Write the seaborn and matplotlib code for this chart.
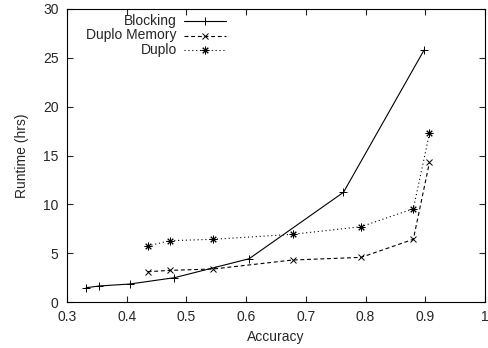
import matplotlib
matplotlib.use("Agg")
import matplotlib.pyplot as plt
from matplotlib.lines import Line2D
import seaborn as sns

# data
blocking_acc = [0.332, 0.354, 0.405, 0.480, 0.605, 0.763, 0.898]
blocking_hrs = [1.46, 1.64, 1.84, 2.49, 4.43, 11.23, 25.8]

duplo_acc = [0.435, 0.4725, 0.545, 0.678, 0.7925, 0.880, 0.907]
duplo_mem_hrs = [3.10, 3.24, 3.38, 4.30, 4.57, 6.42, 14.3]
duplo_hrs = [5.73, 6.28, 6.42, 6.93, 7.71, 9.55, 17.27]

series_names = ['Blocking', 'Duplo Memory', 'Duplo']

sns.set_style("ticks")
plt.rcParams['font.family'] = ['Liberation Sans', 'DejaVu Sans']
plt.rcParams['font.size'] = 10

W, H = 489, 348
fig = plt.figure(figsize=(W / 100, H / 100), dpi=100)
ax = fig.add_axes([67 / W, 1 - 302 / H, (485 - 67) / W, (302 - 9) / H])

styles = [
    dict(linestyle='-', marker='+', markersize=6),
    dict(linestyle=(0, (3.5, 2.5)), marker='x', markersize=5),
    dict(linestyle=(0, (1, 2.5)), marker=(8, 2, 0), markersize=5.5),
]
common = dict(color='black', linewidth=0.8, markeredgewidth=0.7,
              markeredgecolor='black', markerfacecolor='black')

for xs, ys, name, st in zip([blocking_acc, duplo_acc, duplo_acc],
                            [blocking_hrs, duplo_mem_hrs, duplo_hrs],
                            series_names, styles):
    sns.lineplot(x=xs, y=ys, ax=ax, sort=False, estimator=None, errorbar=None,
                 legend=False, **common, **st)

ax.set_xlim(0.3, 1.0)
ax.set_ylim(0, 30)
ax.set_xticks([0.3, 0.4, 0.5, 0.6, 0.7, 0.8, 0.9, 1.0])
ax.set_xticklabels(['0.3', '0.4', '0.5', '0.6', '0.7', '0.8', '0.9', '1'])
ax.set_yticks([0, 5, 10, 15, 20, 25, 30])
ax.tick_params(direction='in', top=True, right=True, length=4, width=0.8, pad=6)
for s in ax.spines.values():
    s.set_linewidth(0.8)
    s.set_color('black')
ax.set_xlabel("Accuracy", labelpad=4)
ax.set_ylabel("Runtime (hrs)", labelpad=10)

# gnuplot-style key: right-aligned labels followed by the line sample
key_rows = [21, 35.5, 50]
for name, st, yp in zip(series_names, styles, key_rows):
    fy = 1 - yp / H
    fig.text(177 / W, fy, name, ha='right', va='center', fontsize=10)
    fig.add_artist(Line2D([184 / W, 226 / W], [fy, fy], transform=fig.transFigure,
                          color='black', linewidth=0.8, linestyle=st['linestyle']))
    fig.add_artist(Line2D([205 / W], [fy], transform=fig.transFigure,
                          linestyle='none', marker=st['marker'],
                          markersize=st['markersize'], markeredgewidth=0.7,
                          color='black'))

fig.savefig("out.png", dpi=100)
